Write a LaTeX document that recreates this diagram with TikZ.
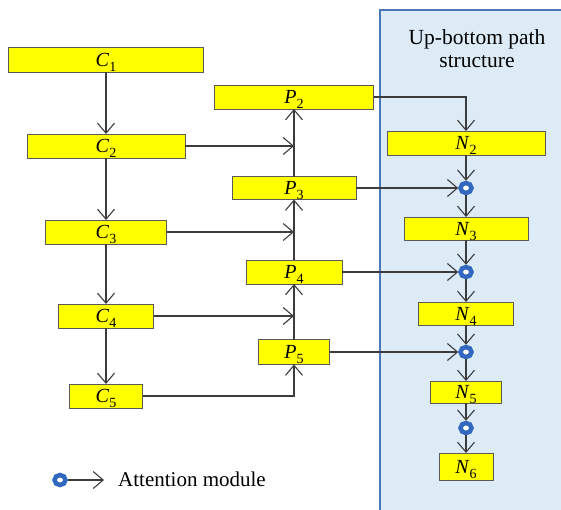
\documentclass[tikz,border=0pt]{standalone}
\usepackage{fontspec}
\setmainfont{Liberation Serif}
\usetikzlibrary{arrows.meta,shapes.geometric}
\definecolor{boxyellow}{RGB}{255,255,0}
\definecolor{boxedge}{RGB}{90,90,90}
\definecolor{linegray}{RGB}{60,60,60}
\definecolor{panelfill}{RGB}{221,235,247}
\definecolor{paneledge}{RGB}{74,118,186}
\definecolor{attblue}{RGB}{50,104,190}
\newcommand\lbl[2]{{\fontsize{20}{20}\selectfont\textit{#1}\smash{\raisebox{-0.55ex}{\fontsize{14}{14}\selectfont #2}}}}
\begin{document}
\begin{tikzpicture}[x=1pt,y=-1pt,
  box/.style={draw=boxedge,fill=boxyellow,line width=0.9pt,inner sep=0pt,outer sep=0pt},
  att/.style={ellipse,draw=attblue,fill=white,line width=4.5pt,minimum width=11pt,minimum height=10pt,inner sep=0pt,outer sep=2.25pt},
  conn/.style={draw=linegray,line width=1.1pt,-{Straight Barb[length=10pt,width=17pt,line width=1.1pt]}},
  plain/.style={draw=linegray,line width=1.1pt}]
\useasboundingbox (0,0) rectangle (561,509);
% panel
\draw[fill=panelfill,draw=paneledge,line width=2pt] (380,10) rectangle (575,525);
\node[align=center,font=\fontsize{21.5}{23}\selectfont] (title) at (477,49) {Up-bottom path\\structure};
% C column
\node[box,minimum width=195pt,minimum height=25pt] (C1) at (106,59.5) {\lbl{C}{1}};
\node[box,minimum width=158pt,minimum height=24pt] (C2) at (106,146) {\lbl{C}{2}};
\node[box,minimum width=121pt,minimum height=24pt] (C3) at (106,232) {\lbl{C}{3}};
\node[box,minimum width=95pt,minimum height=24pt] (C4) at (106,316) {\lbl{C}{4}};
\node[box,minimum width=73pt,minimum height=24pt] (C5) at (106,396) {\lbl{C}{5}};
% P column
\node[box,minimum width=159pt,minimum height=24pt] (P2) at (294,97) {\lbl{P}{2}};
\node[box,minimum width=124pt,minimum height=23pt] (P3) at (294,188) {\lbl{P}{3}};
\node[box,minimum width=96pt,minimum height=24pt] (P4) at (294,272) {\lbl{P}{4}};
\node[box,minimum width=71pt,minimum height=25pt] (P5) at (294,352) {\lbl{P}{5}};
% N column
\node[box,minimum width=158pt,minimum height=24pt] (N2) at (466,143) {\lbl{N}{2}};
\node[att] (A1) at (466,188) {};
\node[box,minimum width=124pt,minimum height=23pt] (N3) at (466,228.5) {\lbl{N}{3}};
\node[att] (A2) at (466,272) {};
\node[box,minimum width=95pt,minimum height=23pt] (N4) at (466,313.5) {\lbl{N}{4}};
\node[att] (A3) at (466,352) {};
\node[box,minimum width=71pt,minimum height=22pt] (N5) at (466,392) {\lbl{N}{5}};
\node[att] (A4) at (466,428) {};
\node[box,minimum width=54pt,minimum height=27pt] (N6) at (466,466.5) {\lbl{N}{6}};
% junction coordinates on P column
\coordinate (j2) at (294,146);
\coordinate (j3) at (294,232);
\coordinate (j4) at (294,316);
% C connectors
\draw[conn] (C1) -- (C2);
\draw[conn] (C2) -- (C3);
\draw[conn] (C3) -- (C4);
\draw[conn] (C4) -- (C5);
\draw[conn] (C2.east) -- (j2);
\draw[conn] (C3.east) -- (j3);
\draw[conn] (C4.east) -- (j4);
\draw[conn] (C5.east) -| (P5.south);
% P connectors
\draw[conn] (P5) -- (P4);
\draw[conn] (P4) -- (P3);
\draw[conn] (P3) -- (P2);
\draw[conn] (P2.east) -| (N2.north);
\draw[conn] (P3.east) -- (A1);
\draw[conn] (P4.east) -- (A2);
\draw[conn] (P5.east) -- (A3);
% N connectors
\draw[conn] (N2) -- (A1);
\draw[conn] (A1) -- (N3);
\draw[conn] (N3) -- (A2);
\draw[conn] (A2) -- (N4);
\draw[conn] (N4) -- (A3);
\draw[conn] (A3) -- (N5);
\draw[conn] (N5) -- (A4);
\draw[conn] (A4) -- (N6);
% legend
\node[att] (LA) at (60,480) {};
\coordinate (LE) at (104,480);
\draw[conn] (LA) -- (LE);
\node[anchor=west,font=\fontsize{21}{21}\selectfont,inner sep=0pt] (LT) at (118,479) {Attention module};
\end{tikzpicture}
\end{document}
